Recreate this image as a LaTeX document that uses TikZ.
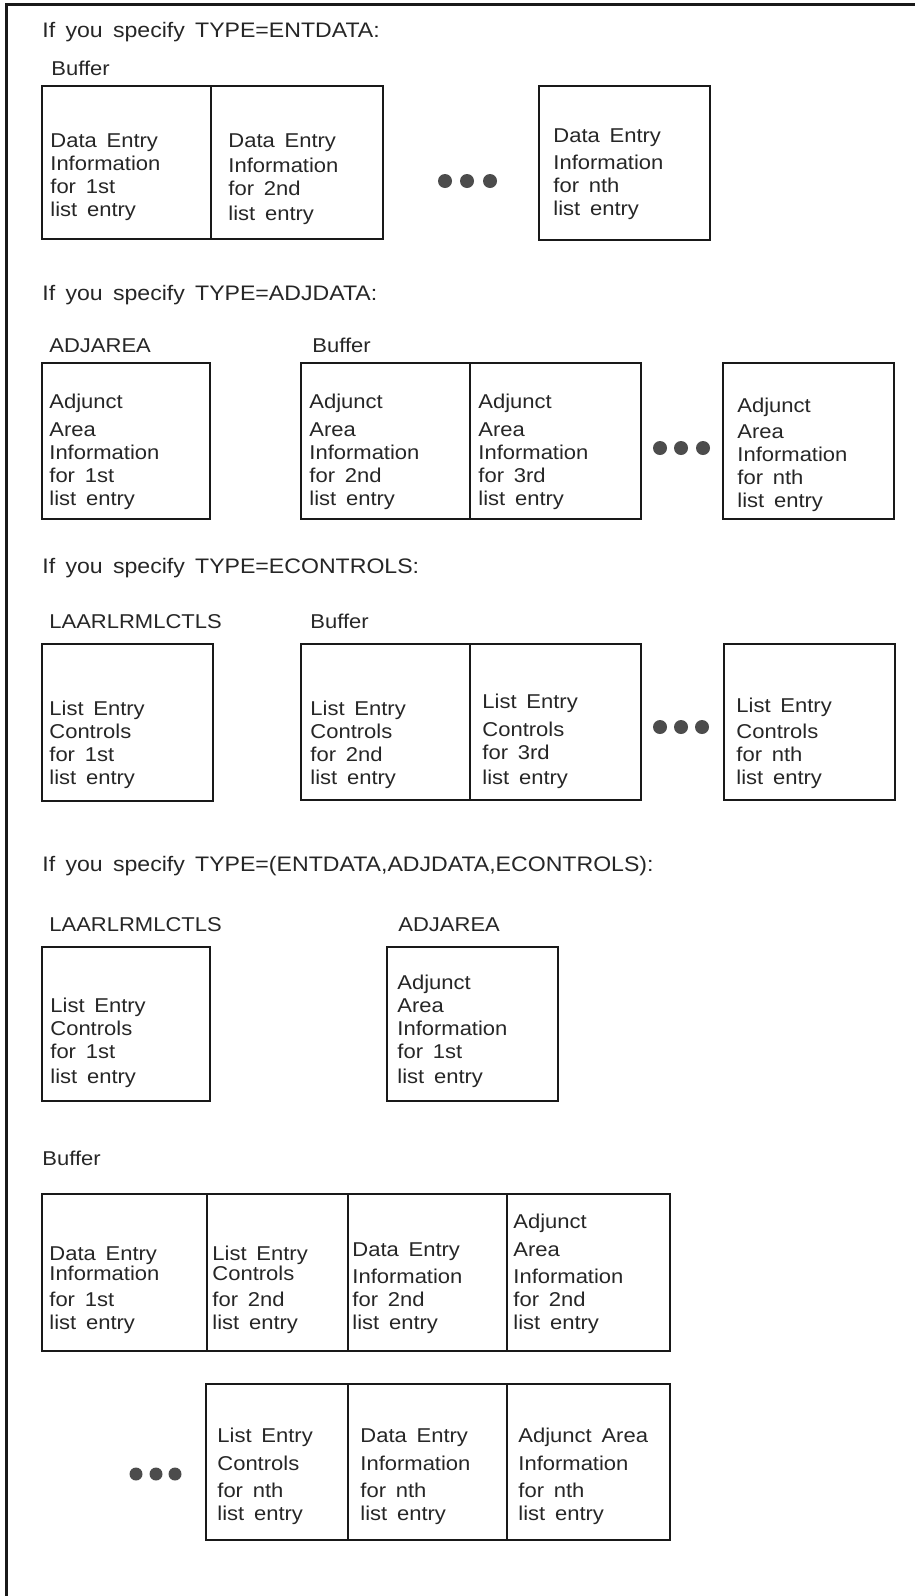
\documentclass[tikz,border=0pt]{standalone}
\usepackage{fontspec}
\setmainfont{Liberation Sans}[FakeStretch=1.1, WordSpace=1.6]
\begin{document}
\begin{tikzpicture}[x=0.5pt, y=-0.5pt,
    box/.style={draw=black!90, line width=1.2pt},
    cell/.style={anchor=base west, inner sep=0pt, align=left, text=black!85, font=\fontsize{10}{11.5}\selectfont},
    heading/.style={anchor=base west, inner sep=0pt, text=black!85, font=\fontsize{10.5}{12}\selectfont},
    areaname/.style={anchor=base west, inner sep=0pt, text=black!85, font=\fontsize{10}{12}\selectfont},
    blob/.style={fill=black!70}]
  \useasboundingbox (0,0) rectangle (915,1596);
  \draw[line width=1.5pt, black!90] (915,4) -- (6,4) -- (6,1596);

  % TYPE=ENTDATA  (cells sit on the baseline of their last line)
  \node[heading] (head1) at (42,37) {If you specify TYPE=ENTDATA:};
  \node[areaname] (buf1) at (51,75) {Buffer};
  \draw[box] (42,86) rectangle (211,239);
  \draw[box] (211,86) rectangle (383,239);
  \draw[box] (539,86) rectangle (710,240);
  \node[cell] (ent1) at (50,216) {Data Entry\\Information\\for 1st\\list entry};
  \node[cell] (ent2) at (228,220) {Data Entry\\[1pt]Information\\for 2nd\\[1pt]list entry};
  \node[cell] (entn) at (553,215) {Data Entry\\[2pt]Information\\for nth\\list entry};
  \foreach \x in {445,467,490} \fill[blob] (\x,181) circle (7);

  % TYPE=ADJDATA
  \node[heading] (head2) at (42,300) {If you specify TYPE=ADJDATA:};
  \node[areaname] (adj2) at (49,352) {ADJAREA};
  \node[areaname] (buf2) at (312,352) {Buffer};
  \draw[box] (42,363) rectangle (210,519);
  \draw[box] (301,363) rectangle (470,519);
  \draw[box] (470,363) rectangle (641,519);
  \draw[box] (723,363) rectangle (894,519);
  \node[cell] (adja1) at (49,505) {Adjunct\\[2.5pt]Area\\Information\\for 1st\\list entry};
  \node[cell] (adjb2) at (309,505) {Adjunct\\[2.5pt]Area\\Information\\for 2nd\\list entry};
  \node[cell] (adjb3) at (478,505) {Adjunct\\[2.5pt]Area\\Information\\for 3rd\\list entry};
  \node[cell] (adjbn) at (737,507) {Adjunct\\[1.5pt]Area\\Information\\for nth\\list entry};
  \foreach \x in {660,681,703} \fill[blob] (\x,448) circle (7);

  % TYPE=ECONTROLS
  \node[heading] (head3) at (42,573) {If you specify TYPE=ECONTROLS:};
  \node[areaname] (ctl3) at (49,628) {LAARLRMLCTLS};
  \node[areaname] (buf3) at (310,628) {Buffer};
  \draw[box] (42,644) rectangle (213,801);
  \draw[box] (301,644) rectangle (470,800);
  \draw[box] (470,644) rectangle (641,800);
  \draw[box] (724,644) rectangle (895,800);
  \node[cell] (ctla1) at (49,784) {List Entry\\Controls\\for 1st\\list entry};
  \node[cell] (ctlb2) at (310,784) {List Entry\\Controls\\for 2nd\\list entry};
  \node[cell] (ctlb3) at (482,784) {List Entry\\[2.5pt]Controls\\for 3rd\\[1pt]list entry};
  \node[cell] (ctlbn) at (736,784) {List Entry\\[1.5pt]Controls\\for nth\\list entry};
  \foreach \x in {660,681,702} \fill[blob] (\x,727) circle (7);

  % TYPE=(ENTDATA,ADJDATA,ECONTROLS)
  \node[heading] (head4) at (42,871) {If you specify TYPE=(ENTDATA,ADJDATA,ECONTROLS):};
  \node[areaname] (ctl4) at (49,931) {LAARLRMLCTLS};
  \node[areaname] (adj4) at (398,931) {ADJAREA};
  \draw[box] (42,947) rectangle (210,1101);
  \draw[box] (387,947) rectangle (558,1101);
  \node[cell] (ctlc1) at (50,1083) {List Entry\\Controls\\for 1st\\[1pt]list entry};
  \node[cell] (adjc1) at (397,1083) {Adjunct\\Area\\Information\\for 1st\\[1pt]list entry};

  \node[areaname] (buf5) at (42,1165) {Buffer};
  \foreach \xa/\xb in {42/207,207/348,348/507,507/670}
    \draw[box] (\xa,1194) rectangle (\xb,1351);
  \node[cell] (entd1) at (49,1329) {Data Entry\\[-1.5pt]Information\\[1.5pt]for 1st\\list entry};
  \node[cell] (ctld2) at (212,1329) {List Entry\\[-1.5pt]Controls\\[1.5pt]for 2nd\\list entry};
  \node[cell] (entd2) at (352,1329) {Data Entry\\[2pt]Information\\for 2nd\\list entry};
  \node[cell] (adjd2) at (513,1329) {Adjunct\\[2.5pt]Area\\[2pt]Information\\for 2nd\\list entry};
  \foreach \xa/\xb in {206/348,348/507,507/670}
    \draw[box] (\xa,1384) rectangle (\xb,1540);
  \foreach \x in {136,156,175} \fill[blob] (\x,1474) circle (6.5);
  \node[cell] (ctldn) at (217,1520) {List Entry\\[2.5pt]Controls\\[2pt]for nth\\list entry};
  \node[cell] (entdn) at (360,1520) {Data Entry\\[2.5pt]Information\\[2pt]for nth\\list entry};
  \node[cell] (adjdn) at (518,1520) {Adjunct Area\\[2.5pt]Information\\[2pt]for nth\\list entry};
\end{tikzpicture}
\end{document}
